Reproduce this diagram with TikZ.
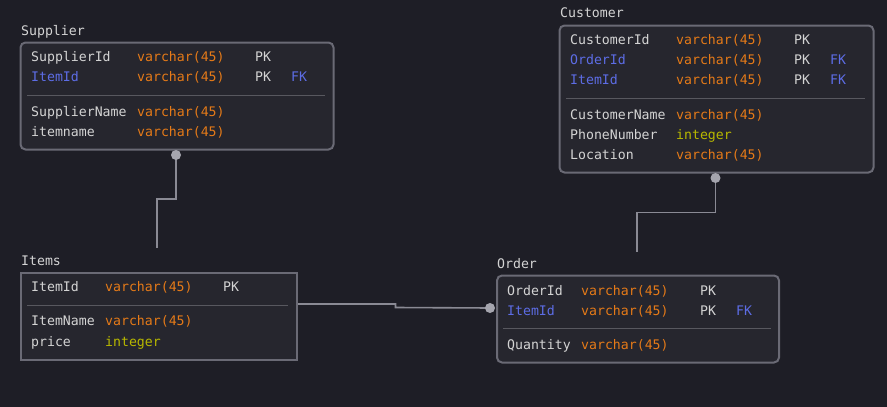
\documentclass[tikz,border=0pt]{standalone}
\usepackage{fontspec}
\setmonofont{DejaVu Sans Mono}
\usetikzlibrary{calc}
\definecolor{bg}{HTML}{1E1E26}
\definecolor{boxfill}{HTML}{26262E}
\definecolor{boxline}{HTML}{6A6A75}
\definecolor{sepline}{HTML}{58585F}
\definecolor{txt}{HTML}{D4D4D4}
\definecolor{typ}{HTML}{E57A18}
\definecolor{intc}{HTML}{B8B800}
\definecolor{fk}{HTML}{5D6DE6}
\definecolor{conn}{HTML}{8A8A94}
\definecolor{dotc}{HTML}{A5A5AE}
\tikzset{
  tbl/.style={draw=boxline, fill=boxfill, line width=2pt, rounded corners=5pt, inner sep=0pt, anchor=north west},
  tblsq/.style={tbl, rounded corners=0pt, line width=2.5pt},
  cell/.style={anchor=base west, inner sep=0pt, font=\ttfamily\fontsize{13.2}{15}\selectfont, text=txt},
  ttl/.style={cell},
  tp/.style={cell, text=typ},
  ip/.style={cell, text=intc},
  fkc/.style={cell, text=fk},
  sep/.style={draw=sepline, line width=1pt},
  conn/.style={draw=conn, line width=1.6pt},
  dot/.style={circle, fill=dotc, inner sep=0pt, minimum size=10pt}
}
\begin{document}
\begin{tikzpicture}[x=1pt,y=-1pt]
\fill[bg] (0,0) rectangle (887,407);
\useasboundingbox (0,0) rectangle (887,407);

% ---------- Supplier ----------
\node[ttl] (supT) at (21,35.3) {Supplier};
\node[tbl, minimum width=313pt, minimum height=107pt] (sup) at (19.5,41.5) {};
\node[cell] (s1n) at (31,61.3) {SupplierId};
\node[tp]   (s1t) at (137,61.3) {varchar(45)};
\node[cell] (s1p) at (255,61.3) {PK};
\node[fkc]  (s2n) at (31,81.3) {ItemId};
\node[tp]   (s2t) at (137,81.3) {varchar(45)};
\node[cell] (s2p) at (255,81.3) {PK};
\node[fkc]  (s2f) at (291,81.3) {FK};
\coordinate (sSepA) at (27,95);
\coordinate (sSepB) at (325,95);
\draw[sep] (sSepA) -- (sSepB);
\node[cell] (s3n) at (31,116.3) {SupplierName};
\node[tp]   (s3t) at (137,116.3) {varchar(45)};
\node[cell] (s4n) at (31,136.3) {itemname};
\node[tp]   (s4t) at (137,136.3) {varchar(45)};

% ---------- Customer ----------
\node[ttl] (cusT) at (560,17.3) {Customer};
\node[tbl, minimum width=314pt, minimum height=147pt] (cus) at (558.5,24.5) {};
\node[cell] (c1n) at (570,44.3) {CustomerId};
\node[tp]   (c1t) at (676,44.3) {varchar(45)};
\node[cell] (c1p) at (794,44.3) {PK};
\node[fkc]  (c2n) at (570,64.3) {OrderId};
\node[tp]   (c2t) at (676,64.3) {varchar(45)};
\node[cell] (c2p) at (794,64.3) {PK};
\node[fkc]  (c2f) at (830,64.3) {FK};
\node[fkc]  (c3n) at (570,84.3) {ItemId};
\node[tp]   (c3t) at (676,84.3) {varchar(45)};
\node[cell] (c3p) at (794,84.3) {PK};
\node[fkc]  (c3f) at (830,84.3) {FK};
\coordinate (cSepA) at (566,98);
\coordinate (cSepB) at (865,98);
\draw[sep] (cSepA) -- (cSepB);
\node[cell] (c4n) at (570,119.3) {CustomerName};
\node[tp]   (c4t) at (676,119.3) {varchar(45)};
\node[cell] (c5n) at (570,139.3) {PhoneNumber};
\node[ip]   (c5t) at (676,139.3) {integer};
\node[cell] (c6n) at (570,159.3) {Location};
\node[tp]   (c6t) at (676,159.3) {varchar(45)};

% ---------- Items ----------
\node[ttl] (itmT) at (21,265.3) {Items};
\node[tblsq, minimum width=276pt, minimum height=87pt] (itm) at (19.5,271.5) {};
\node[cell] (i1n) at (31,291.3) {ItemId};
\node[tp]   (i1t) at (105,291.3) {varchar(45)};
\node[cell] (i1p) at (223,291.3) {PK};
\coordinate (iSepA) at (27,305);
\coordinate (iSepB) at (288,305);
\draw[sep] (iSepA) -- (iSepB);
\node[cell] (i2n) at (31,325.3) {ItemName};
\node[tp]   (i2t) at (105,325.3) {varchar(45)};
\node[cell] (i3n) at (31,346.3) {price};
\node[ip]   (i3t) at (105,346.3) {integer};

% ---------- Order ----------
\node[ttl] (ordT) at (497,268.3) {Order};
\node[tbl, minimum width=282pt, minimum height=87pt] (ord) at (496,274.5) {};
\node[cell] (o1n) at (507,295.3) {OrderId};
\node[tp]   (o1t) at (581,295.3) {varchar(45)};
\node[cell] (o1p) at (700,295.3) {PK};
\node[fkc]  (o2n) at (507,315.3) {ItemId};
\node[tp]   (o2t) at (581,315.3) {varchar(45)};
\node[cell] (o2p) at (700,315.3) {PK};
\node[fkc]  (o2f) at (736,315.3) {FK};
\coordinate (oSepA) at (503,328.5);
\coordinate (oSepB) at (771,328.5);
\draw[sep] (oSepA) -- (oSepB);
\node[cell] (o3n) at (507,349.3) {Quantity};
\node[tp]   (o3t) at (581,349.3) {varchar(45)};

% ---------- Connectors ----------
% Supplier -> Items
\coordinate (d1) at (176,155);
\coordinate (e1) at (157,248);
\draw[conn] (d1) -- (176,199) -- (157,199) -- (e1);
\node[dot] (dot1) at (d1) {};

% Customer -> Order
\coordinate (d2) at (715.5,178);
\coordinate (e2) at (637,252);
\draw[conn] (d2) -- (715.5,212.5) -- (637,212.5) -- (e2);
\node[dot] (dot2) at (d2) {};

% Items -> Order
\coordinate (d3) at (490,308);
\draw[conn] (itm.east |- 0,304) -- (395.5,304) -- (395.5,307.5) -- (d3);
\node[dot] (dot3) at (d3) {};
\end{tikzpicture}
\end{document}
